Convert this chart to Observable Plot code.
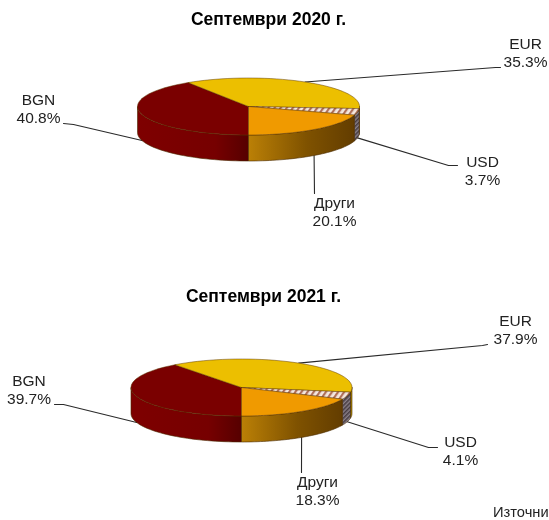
<!DOCTYPE html>
<html><head><meta charset="utf-8">
<script src="https://cdn.jsdelivr.net/npm/d3@7"></script>
<script src="https://cdn.jsdelivr.net/npm/@observablehq/plot@0.6"></script>
<style>html,body{margin:0;padding:0;background:#fff;overflow:hidden}svg{display:block;filter:blur(.35px)}</style>
</head><body><div id="c"></div>
<script>
const categories = ["BGN","EUR","USD","Други"];
const titles = ["Септември 2020 г.","Септември 2021 г."];
const share2020 = [40.8,35.3,3.7,20.1];
const share2021 = [39.7,37.9,4.1,18.3];
const sourceNote = "Източни";

const topFill = ["#7a0000","#ecbf00","url(#hatchTop)","#f09a00"];
const sideFill = ["url(#sideRed)","#b08c00","url(#hatchSide)","url(#sideOrange)"];

// layout of the two pies and their annotations; leaders = [elbow x, elbow y, end x, end y]
const layouts = [
  {cx:248,cy:106,rx:111,ry:28.5,depth:26,titleX:268,titleY:19,
   leaders:[[73,124,63,123],[495,67,500,67],[448,165,457,165],[314,193,314,193]],
   labels:[[38,100],[525,44],[482,162],[334,203]]},
  {cx:241,cy:387,rx:110.5,ry:28.5,depth:26,titleX:263,titleY:296,
   leaders:[[63,404,54,404],[482,345,487,344],[428,447,437,447],[301,472,301,472]],
   labels:[[28.5,381],[515,321],[460,442],[317,482]]}
];
const rim = (L,deg,dz=0)=>{const t=deg*Math.PI/180;return {x:L.cx+L.rx*Math.sin(t),y:L.cy-L.ry*Math.cos(t)+dz};};
const arc = (L,a0,a1,dz=0)=>d3.range(0,41).map(i=>rim(L,a0+(a1-a0)*i/40,dz));

const marks=[];
[share2020,share2021].forEach((shares,k)=>{
  const L=layouts[k];
  let a=180; const total=d3.sum(shares);
  const slices=shares.map((s,i)=>{const a0=a,a1=a+s/total*360;a=a1;return {i,a0,a1,mid:(a0+a1)/2,s};});
  // sides: only the part of the rim that faces the viewer (clock angle 90..270)
  const sides=[];
  slices.forEach(sl=>{
    [[sl.a0,sl.a1],[sl.a0-360,sl.a1-360]].forEach(([p,q])=>{
      const b0=Math.max(p,90),b1=Math.min(q,270);
      if(b1>b0) sides.push({i:sl.i,pts:[...arc(L,b0,b1,0),...arc(L,b1,b0,L.depth),rim(L,b0,0)]});
    });
  });
  sides.forEach(s=>marks.push(Plot.line(s.pts,{x:"x",y:"y",fill:sideFill[s.i],stroke:"#4a2a00",strokeWidth:.6,curve:"linear"})));
  slices.forEach(sl=>{
    const pts=[{x:L.cx,y:L.cy},...arc(L,sl.a0,sl.a1),{x:L.cx,y:L.cy}];
    marks.push(Plot.line(pts,{x:"x",y:"y",fill:topFill[sl.i],stroke:"#5a3500",strokeWidth:.6,strokeOpacity:.8,curve:"linear"}));
  });
  // leaders: from the rim at each slice's mid angle out to its label
  slices.forEach(sl=>{
    const front=((sl.mid%360)+360)%360; const isFront=front>90&&front<270;
    const p=rim(L,sl.mid,isFront?L.depth:0);
    const [ex,ey,fx,fy]=L.leaders[sl.i];
    marks.unshift(Plot.line([p,{x:ex,y:ey},{x:fx,y:fy}],{x:"x",y:"y",stroke:"#2a2a2a",strokeWidth:1.1,curve:"linear"}));
  });
  const labels=slices.map(sl=>({x:L.labels[sl.i][0],y:L.labels[sl.i][1],t:categories[sl.i]+"\n"+sl.s.toFixed(1)+"%"}));
  marks.push(Plot.text(labels,{x:"x",y:"y",text:"t",fontSize:15.5,lineHeight:1.16,textAnchor:"middle",lineAnchor:"top",dy:-8.5,fill:"#222"}));
  marks.push(Plot.text([titles[k]],{x:()=>L.titleX,y:()=>L.titleY,text:d=>d,fontSize:17.5,fontWeight:"bold",fill:"#000",style:{letterSpacing:"1px"}}));
});
marks.push(Plot.text([sourceNote],{x:()=>492.5,y:()=>512,text:d=>d,fontSize:14.7,textAnchor:"start",fill:"#222"}));

const chart=Plot.plot({
  width:549,height:520,margin:0,
  style:{fontFamily:"'Liberation Sans',Arial,sans-serif",background:"#fff",overflow:"hidden"},
  x:{axis:null,type:"linear",domain:[0,549],range:[0,549]},
  y:{axis:null,type:"linear",domain:[0,520],range:[0,520]},
  marks
});
chart.insertAdjacentHTML("afterbegin",`<defs>
<linearGradient id="sideRed" x1="0" x2="1" y1="0" y2="0"><stop offset="0" stop-color="#7e0000"/><stop offset=".7" stop-color="#760000"/><stop offset="1" stop-color="#560000"/></linearGradient>
<linearGradient id="sideOrange" x1="0" x2="1" y1="0" y2="0"><stop offset="0" stop-color="#bb8006"/><stop offset=".55" stop-color="#7f5200"/><stop offset="1" stop-color="#633d00"/></linearGradient>
<pattern id="hatchTop" width="5" height="4" patternUnits="userSpaceOnUse" patternTransform="rotate(35)"><rect width="5" height="4" fill="#f4e8e0"/><rect width="2.2" height="4" fill="#b0705a"/></pattern>
<pattern id="hatchSide" width="3" height="3" patternUnits="userSpaceOnUse" patternTransform="rotate(45)"><rect width="3" height="3" fill="#8a8088"/><rect width="1.5" height="3" fill="#453a40"/></pattern>
</defs>`);
document.getElementById("c").appendChild(chart);
</script></body></html>
